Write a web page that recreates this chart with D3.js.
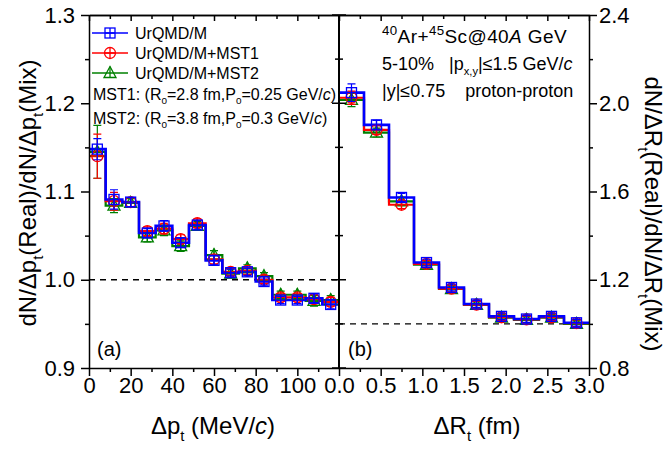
<!DOCTYPE html>
<html>
<head>
<meta charset="utf-8">
<script src="https://cdn.jsdelivr.net/npm/d3@7"></script>
<style>
  body { margin: 0; background: #fff; }
  svg { display: block; font-family: "Liberation Sans", Arial, sans-serif; }
</style>
</head>
<body>
<svg id="chart" width="669" height="449"></svg>
<script>
// panel (a): delta p_t bin centres (MeV/c), bin width 8
const ptBins = [4, 12, 20, 28, 36, 44, 52, 60, 68, 76, 84, 92, 100, 108, 116];
const ptUrqmd    = [1.148, 1.091, 1.088, 1.053, 1.061, 1.042, 1.062, 1.022, 1.008, 1.009, 0.998, 0.977, 0.977, 0.979, 0.972];
const ptUrqmdErr = [0.012, 0.011, 0.005, 0.005, 0.006, 0.005, 0.005, 0.005, 0.004, 0.004, 0.004, 0.004, 0.004, 0.005, 0.005];
const ptMst1     = [1.140, 1.089, 1.088, 1.055, 1.058, 1.046, 1.064, 1.023, 1.009, 1.010, 1.000, 0.980, 0.980, 0.978, 0.975];
const ptMst1Err  = [0.025, 0.010, 0.005, 0.005, 0.006, 0.005, 0.005, 0.005, 0.004, 0.004, 0.004, 0.004, 0.004, 0.005, 0.005];
const ptMst2     = [1.145, 1.084, 1.087, 1.048, 1.056, 1.038, 1.061, 1.028, 1.007, 1.013, 1.004, 0.983, 0.983, 0.976, 0.977];
const ptMst2Err  = [0.030, 0.008, 0.005, 0.005, 0.006, 0.006, 0.005, 0.005, 0.005, 0.004, 0.004, 0.004, 0.004, 0.006, 0.005];

// panel (b): delta R_t bin centres (fm), bin width 0.3
const drBins = [0.15, 0.45, 0.75, 1.05, 1.35, 1.65, 1.95, 2.25, 2.55, 2.85];
const drUrqmd    = [2.048, 1.902, 1.573, 1.278, 1.165, 1.090, 1.034, 1.022, 1.034, 1.005];
const drUrqmdErr = [0.040, 0.020, 0.018, 0.015, 0.015, 0.015, 0.015, 0.015, 0.015, 0.015];
const drMst1     = [2.025, 1.879, 1.540, 1.272, 1.160, 1.087, 1.030, 1.020, 1.030, 1.003];
const drMst1Err  = [0.030, 0.020, 0.018, 0.015, 0.015, 0.015, 0.015, 0.015, 0.015, 0.015];
const drMst2     = [2.015, 1.867, 1.555, 1.268, 1.158, 1.086, 1.028, 1.018, 1.028, 1.000];
const drMst2Err  = [0.030, 0.020, 0.018, 0.018, 0.015, 0.015, 0.015, 0.015, 0.015, 0.015];

const seriesNames  = ["UrQMD/M", "UrQMD/M+MST1", "UrQMD/M+MST2"];
const seriesColors = ["#0000ff", "#ff0000", "#008000"];
const seriesMarks  = ["square", "circle", "triangle"];

const ptTicks = [0, 20, 40, 60, 80, 100];
const ptMinor = [10, 30, 50, 70, 90, 110];
const drTicks = [0, 0.5, 1.0, 1.5, 2.0, 2.5, 3.0];
const drMinor = [0.25, 0.75, 1.25, 1.75, 2.25, 2.75];
const yLTicks = [0.9, 1.0, 1.1, 1.2, 1.3];
const yLMinor = [0.95, 1.05, 1.15, 1.25];
const yRTicks = [0.8, 1.2, 1.6, 2.0, 2.4];
const yRMinor = [1.0, 1.4, 1.8, 2.2];

const svg = d3.select("#chart");
const plotL = 89, plotM = 339, plotR = 589, plotT = 15, plotB = 368;

const xL = d3.scaleLinear().domain([0, 120]).range([plotL, plotM]);
const xR = d3.scaleLinear().domain([0, 3]).range([plotM, plotR]);
const yL = d3.scaleLinear().domain([0.9, 1.3]).range([plotB, plotT]);
const yR = d3.scaleLinear().domain([0.8, 2.4]).range([plotB, plotT]);
const fmt = d3.format(".1f");

// text with sub/superscripts and italics: parts = [[text, kind]]
function rich(sel, parts, size, supScale = 0.62) {
  let shift = 0;
  parts.forEach(([t, kind]) => {
    const ts = sel.append("tspan").text(t);
    const target = kind === "sub" ? size * 0.28 : kind === "sup" ? -size * 0.42 : 0;
    if (target !== shift) ts.attr("dy", target - shift);
    shift = target;
    if (kind === "sub" || kind === "sup") ts.attr("font-size", size * supScale);
    else if (kind === "i") ts.attr("font-style", "italic");
  });
  return sel;
}

function marker(g, type, x, y, color) {
  const m = g.append("g").attr("transform", `translate(${x},${y})`)
    .attr("fill", "none").attr("stroke", color).attr("stroke-width", 1.3);
  if (type === "square") {
    m.append("rect").attr("x", -5).attr("y", -5).attr("width", 10).attr("height", 10);
    m.append("path").attr("d", "M-5,0H5M0,-5V5");
  } else if (type === "circle") {
    m.append("circle").attr("r", 5.5);
    m.append("path").attr("d", "M-5.5,0H5.5M0,-5.5V5.5");
  } else {
    m.append("path").attr("d", "M0,-6.5L6,4.5H-6Z");
    m.append("path").attr("d", "M0,-6.5V4.5");
  }
}

function stepPath(bins, vals, width, x, y) {
  let d = "";
  bins.forEach((c, i) => {
    const x0 = x(c - width / 2), x1 = x(c + width / 2), yy = y(vals[i]);
    d += (i === 0 ? `M${x0},${yy}` : `L${x0},${yy}`) + `L${x1},${yy}`;
  });
  return d;
}

function drawPanel(bins, series, errs, width, x, y) {
  const g = svg.append("g");
  // step lines, blue on top
  [2, 1, 0].forEach(s => {
    g.append("path").attr("d", stepPath(bins, series[s], width, x, y))
      .attr("fill", "none").attr("stroke", seriesColors[s])
      .attr("stroke-width", s === 0 ? 2.6 : 2.2);
  });
  // error bars and markers
  [2, 1, 0].forEach(s => {
    bins.forEach((c, i) => {
      const cx = x(c), v = series[s][i], e = errs[s][i];
      g.append("path")
        .attr("d", `M${cx},${y(v + e)}V${y(v - e)}M${cx - 4},${y(v + e)}H${cx + 4}M${cx - 4},${y(v - e)}H${cx + 4}`)
        .attr("stroke", seriesColors[s]).attr("stroke-width", 1.2).attr("fill", "none");
      marker(g, seriesMarks[s], cx, y(v), seriesColors[s]);
    });
  });
}

// dashed reference lines at 1.0
svg.append("line").attr("x1", plotL).attr("x2", plotM).attr("y1", yL(1.0)).attr("y2", yL(1.0))
  .attr("stroke", "#000").attr("stroke-width", 1.4).attr("stroke-dasharray", "6,5");
svg.append("line").attr("x1", plotM).attr("x2", plotR).attr("y1", yR(1.0)).attr("y2", yR(1.0))
  .attr("stroke", "#000").attr("stroke-width", 1.4).attr("stroke-dasharray", "6,5");

drawPanel(ptBins, [ptUrqmd, ptMst1, ptMst2], [ptUrqmdErr, ptMst1Err, ptMst2Err], 8, xL, yL);
drawPanel(drBins, [drUrqmd, drMst1, drMst2], [drUrqmdErr, drMst1Err, drMst2Err], 0.3, xR, yR);

// axes
function styleAxis(g, size) {
  g.attr("font-family", null).attr("font-size", size);
  g.selectAll("line,path").attr("stroke", "#000").attr("stroke-width", 1.5);
  g.selectAll("text").attr("fill", "#000");
}
function minorAxis(g) {
  g.select(".domain").remove();
  g.selectAll("text").remove();
  g.selectAll("line,path").attr("stroke", "#000").attr("stroke-width", 1.5);
}
const tickFont = 22;

const axB1 = svg.append("g").attr("transform", `translate(0,${plotB})`)
  .call(d3.axisBottom(xL).tickValues(ptTicks).tickSize(8).tickSizeOuter(0).tickPadding(1).tickFormat(d3.format("d")));
styleAxis(axB1, tickFont);
const axB2 = svg.append("g").attr("transform", `translate(0,${plotB})`)
  .call(d3.axisBottom(xR).tickValues(drTicks).tickSize(8).tickSizeOuter(0).tickPadding(1).tickFormat(fmt));
styleAxis(axB2, tickFont);
[[xL, ptMinor], [xR, drMinor]].forEach(([sc, mv]) => {
  svg.append("g").attr("transform", `translate(0,${plotB})`)
    .call(d3.axisBottom(sc).tickValues(mv).tickSize(4))
    .call(minorAxis);
});

// top frame with inward ticks
[[xL, ptTicks, 6], [xL, ptMinor, 4], [xR, drTicks, 6], [xR, drMinor, 4]].forEach(([sc, tv, len]) => {
  const g = svg.append("g").attr("transform", `translate(0,${plotT})`)
    .call(d3.axisTop(sc).tickValues(tv).tickSize(-len).tickSizeOuter(0));
  g.selectAll("text").remove();
  g.selectAll("line,path").attr("stroke", "#000").attr("stroke-width", 1.5);
});

const axL = svg.append("g").attr("transform", `translate(${plotL},0)`)
  .call(d3.axisLeft(yL).tickValues(yLTicks).tickSize(8).tickSizeOuter(0).tickPadding(6).tickFormat(fmt));
styleAxis(axL, tickFont);
svg.append("g").attr("transform", `translate(${plotL},0)`)
  .call(d3.axisLeft(yL).tickValues(yLMinor).tickSize(4))
  .call(minorAxis);

const axR = svg.append("g").attr("transform", `translate(${plotR},0)`)
  .call(d3.axisRight(yR).tickValues(yRTicks).tickSize(8).tickSizeOuter(0).tickPadding(2).tickFormat(fmt));
styleAxis(axR, tickFont);
svg.append("g").attr("transform", `translate(${plotR},0)`)
  .call(d3.axisRight(yR).tickValues(yRMinor).tickSize(4))
  .call(minorAxis);

// middle divider with crossing ticks
svg.append("line").attr("x1", plotM).attr("x2", plotM).attr("y1", plotT).attr("y2", plotB)
  .attr("stroke", "#000").attr("stroke-width", 2);
svg.selectAll(".midtick").data(yLTicks.concat(yLMinor)).enter().append("line")
  .attr("x1", d => plotM - (yLTicks.includes(d) ? 7 : 4))
  .attr("x2", d => plotM + (yLTicks.includes(d) ? 7 : 4))
  .attr("y1", d => yL(d)).attr("y2", d => yL(d))
  .attr("stroke", "#000").attr("stroke-width", 1.5);

// axis titles
const titleFont = 24;
rich(svg.append("text").attr("transform", "translate(36,193) rotate(-90)")
  .attr("text-anchor", "middle").attr("font-size", titleFont),
  [["dN/\u0394p", ""], ["t", "sub"], ["(Real)/dN/\u0394p", ""], ["t", "sub"], ["(Mix)", ""]], titleFont);
rich(svg.append("text").attr("transform", "translate(645,214) rotate(90)")
  .attr("text-anchor", "middle").attr("font-size", titleFont),
  [["dN/\u0394R", ""], ["t", "sub"], ["(Real)/dN/\u0394R", ""], ["t", "sub"], ["(Mix)", ""]], titleFont);
rich(svg.append("text").attr("x", 213).attr("y", 434)
  .attr("text-anchor", "middle").attr("font-size", titleFont),
  [["\u0394p", ""], ["t", "sub"], [" (MeV/", ""], ["c", "i"], [")", ""]], titleFont);
rich(svg.append("text").attr("x", 477).attr("y", 434)
  .attr("text-anchor", "middle").attr("font-size", titleFont),
  [["\u0394R", ""], ["t", "sub"], [" (fm)", ""]], titleFont);

// panel labels
svg.append("text").attr("x", 97).attr("y", 356).attr("font-size", 20).text("(a)");
svg.append("text").attr("x", 348).attr("y", 356).attr("font-size", 20).text("(b)");

// legend
const legFont = 16;
seriesNames.forEach((name, i) => {
  const yy = 33 + 20 * i;
  svg.append("line").attr("x1", 92).attr("x2", 128).attr("y1", yy).attr("y2", yy)
    .attr("stroke", seriesColors[i]).attr("stroke-width", 1.5);
  marker(svg, seriesMarks[i], 110, yy, seriesColors[i]);
  svg.append("text").attr("x", 135).attr("y", yy + 6).attr("font-size", legFont).text(name);
});
rich(svg.append("text").attr("x", 93).attr("y", 100).attr("font-size", legFont),
  [["MST1: (R", ""], ["0", "sub"], ["=2.8 fm,P", ""], ["0", "sub"], ["=0.25 GeV/", ""], ["c", "i"], [")", ""]], legFont);
rich(svg.append("text").attr("x", 93).attr("y", 124).attr("font-size", legFont),
  [["MST2: (R", ""], ["0", "sub"], ["=3.8 fm,P", ""], ["0", "sub"], ["=0.3 GeV/", ""], ["c", "i"], [")", ""]], legFont);

// system annotation
const annFont = 18;
rich(svg.append("text").attr("x", 382).attr("y", 43).attr("font-size", annFont + 1).attr("letter-spacing", 0.4),
  [["40", "sup"], ["Ar+", ""], ["45", "sup"], ["Sc@40", ""], ["A", "i"], [" GeV", ""]], annFont + 1, 0.7);
rich(svg.append("text").attr("x", 382).attr("y", 70).attr("font-size", annFont).attr("xml:space", "preserve"),
  [["5-10%   |p", ""], ["x,y", "sub"], ["|\u22641.5 GeV/", ""], ["c", "i"]], annFont);
rich(svg.append("text").attr("x", 382).attr("y", 97).attr("font-size", annFont).attr("xml:space", "preserve"),
  [["|y|\u22640.75    proton-proton", ""]], annFont);
</script>
</body>
</html>
